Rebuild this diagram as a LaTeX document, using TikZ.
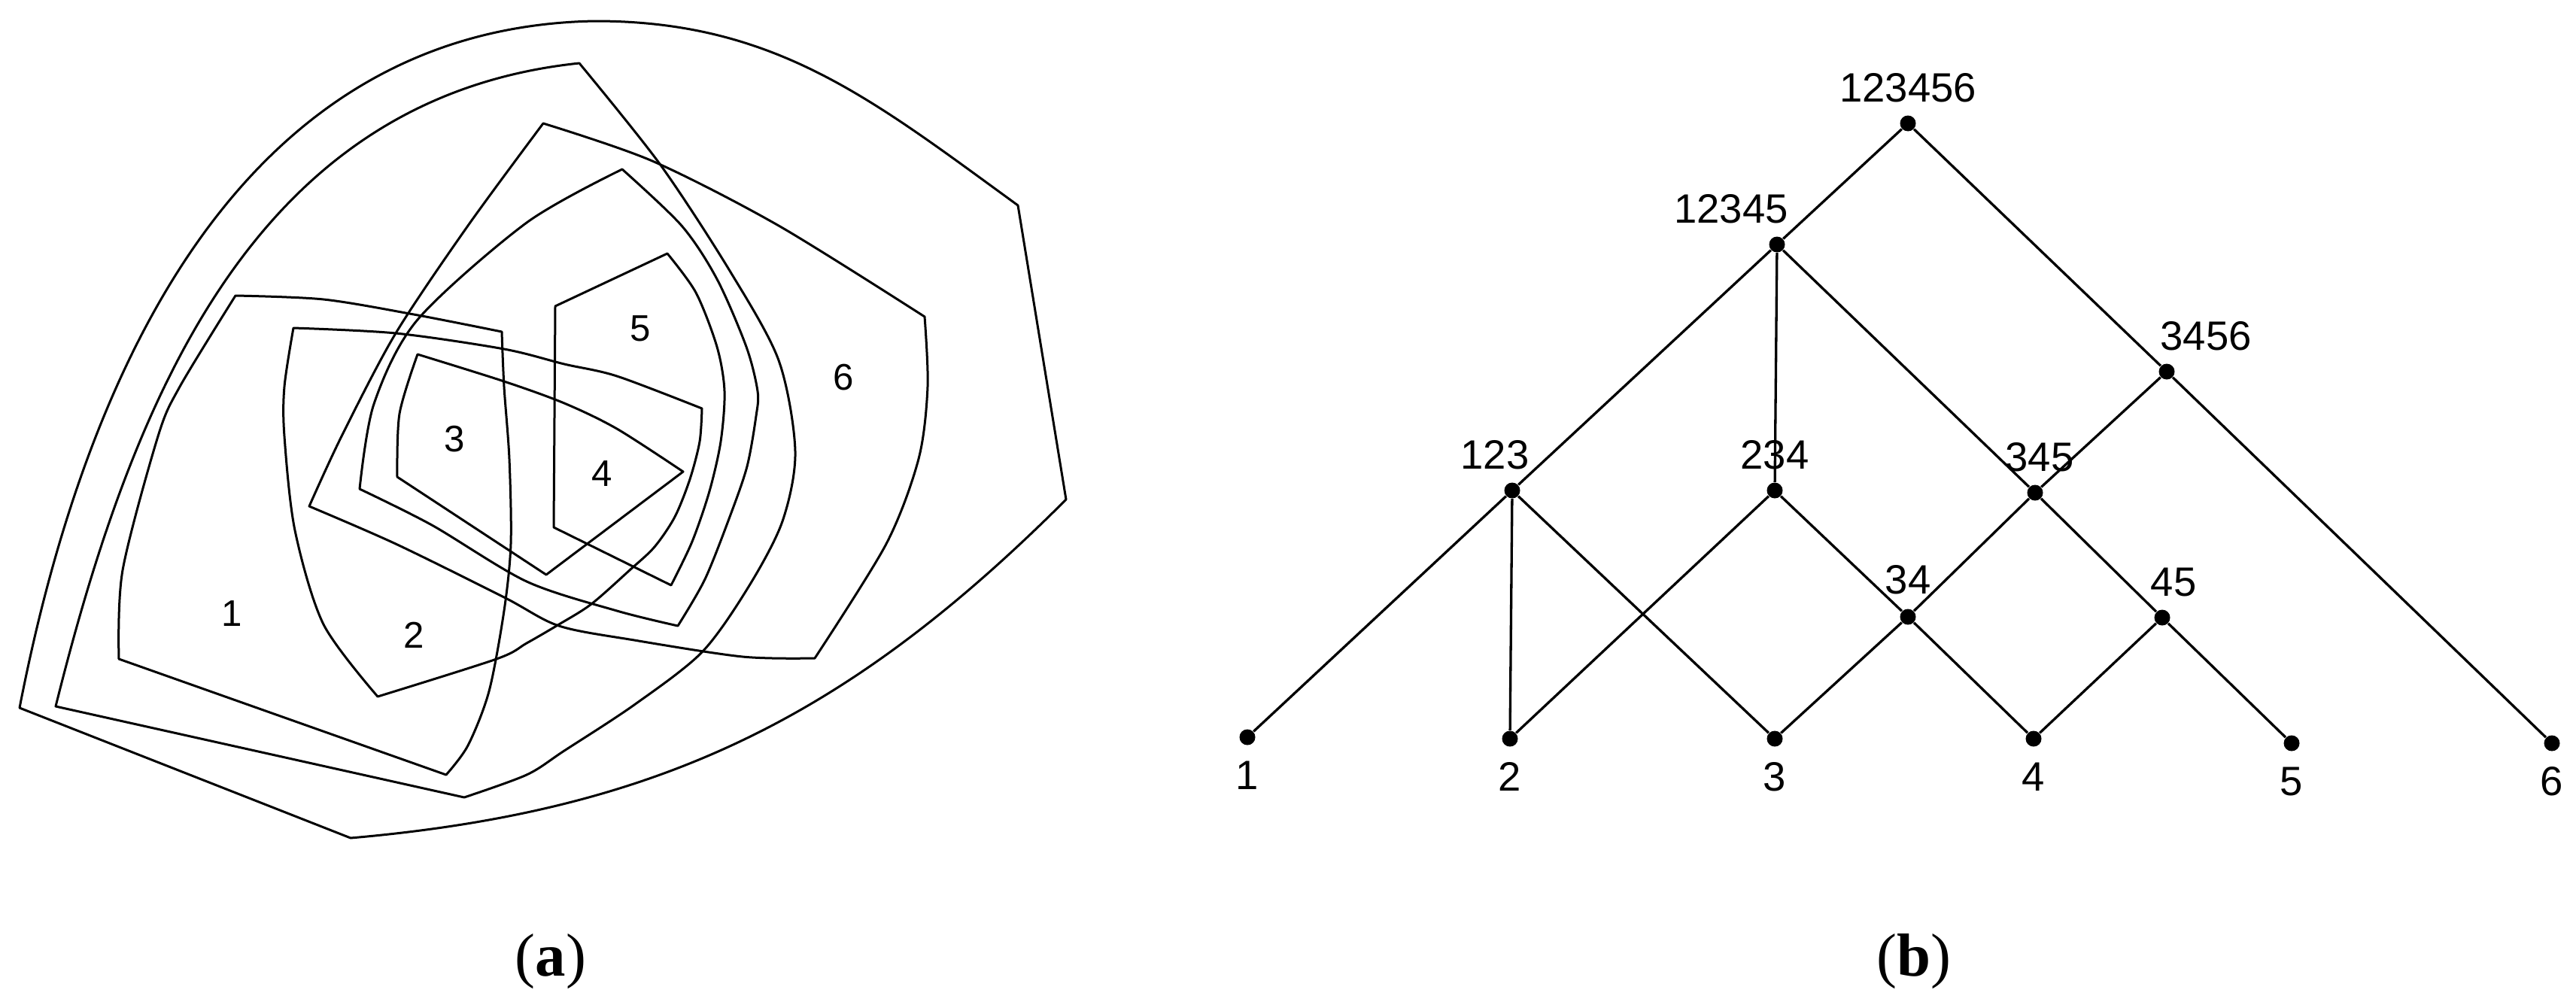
\documentclass[tikz,border=0pt]{standalone}
\usepackage{fontspec}
\setmainfont{Liberation Serif}
\setsansfont{Liberation Sans}
\usepackage{tikz}

\begin{document}
\begin{tikzpicture}[venn/.style={line width=0.3mm,line join=round},
  dot/.style={circle,fill,inner sep=0pt,minimum size=2.1mm},
  every label/.style={font=\sffamily\fontsize{15.5}{18}\selectfont,inner sep=0pt},
  num/.style={font=\sffamily\fontsize{14}{17}\selectfont,inner sep=0pt}]
\useasboundingbox (0,0) rectangle (34.24,-13.39);
% (a)
\draw[venn] (0.26,-9.41) to[out=79,in=181] (7.91,-0.28) to[out=0,in=144] (13.53,-2.73) -- (14.17,-6.64) to[out=225,in=5] (4.66,-11.14) -- cycle;
\draw[venn] (0.74,-9.39) to[out=76,in=186] (7.70,-0.84) -- plot[smooth] coordinates {(7.70,-0.84) (8.77,-2.18) (9.70,-3.60) (10.35,-4.79) (10.57,-6.00) (10.40,-6.93) (9.95,-7.80) (9.33,-8.67) (8.43,-9.37) (7.50,-9.98) (7.00,-10.30) (6.17,-10.60)} -- cycle;
\draw[venn] plot[smooth] coordinates {(7.22,-1.64) (8.67,-2.14) (10.35,-3.00) (12.29,-4.21)} -- plot[smooth] coordinates {(12.29,-4.21) (12.33,-5.14) (12.21,-6.10) (11.78,-7.23) (10.83,-8.75)} -- plot[smooth] coordinates {(10.83,-8.75) (9.87,-8.73) (8.43,-8.51) (7.43,-8.32) (6.70,-7.94) (5.26,-7.23) (4.11,-6.73)} -- plot[smooth] coordinates {(4.11,-6.73) (4.54,-5.80) (5.26,-4.43) (6.22,-3.00) (7.22,-1.64)} -- cycle;
\draw[venn] plot[smooth] coordinates {(3.13,-3.93) (4.30,-3.98) (5.50,-4.18) (6.67,-4.41)} -- plot[smooth] coordinates {(6.67,-4.41) (6.70,-5.14) (6.77,-6.10) (6.79,-7.23) (6.70,-8.12) (6.50,-9.19) (6.22,-9.91) (5.93,-10.30)} -- (1.58,-8.76) -- plot[smooth] coordinates {(1.58,-8.76) (1.63,-7.58) (2.10,-5.80) (2.39,-5.14) (3.13,-3.93)} -- cycle;
\draw[venn] plot[smooth] coordinates {(3.90,-4.36) (5.26,-4.43) (6.70,-4.64) (7.50,-4.84) (8.20,-5.00) (9.33,-5.43)} -- plot[smooth] coordinates {(9.33,-5.43) (9.30,-5.87) (9.17,-6.37) (8.97,-6.87) (8.70,-7.27) (8.38,-7.57) (7.86,-8.03) (7.43,-8.30) (7.00,-8.55) (6.60,-8.76) (5.02,-9.26)} -- plot[smooth] coordinates {(5.02,-9.26) (4.30,-8.30) (3.92,-7.05) (3.78,-5.80) (3.78,-5.14) (3.90,-4.36)} -- cycle;
\draw[venn] plot[smooth] coordinates {(8.27,-2.25) (7.00,-2.96) (5.55,-4.25) (4.97,-5.37) (4.78,-6.50)} -- plot[smooth] coordinates {(4.78,-6.50) (5.74,-6.98) (7.00,-7.73) (8.20,-8.12) (9.01,-8.32)} -- plot[smooth] coordinates {(9.01,-8.32) (9.37,-7.70) (9.70,-6.87) (9.93,-6.20) (10.05,-5.53) (10.07,-5.20) (9.92,-4.61) (9.53,-3.71) (9.06,-3.00) (8.27,-2.25)} -- cycle;
\draw[venn] plot[smooth] coordinates {(5.55,-4.71) (6.70,-5.07) (7.50,-5.36) (8.20,-5.70) (9.08,-6.27)} -- (7.26,-7.64) -- (5.28,-6.34) -- plot[smooth] coordinates {(5.28,-6.34) (5.31,-5.50) (5.55,-4.71)} -- cycle;
\draw[venn] (8.87,-3.37) -- (7.38,-4.07) -- (7.36,-7.01) -- (8.92,-7.78) -- plot[smooth] coordinates {(8.92,-7.78) (9.20,-7.20) (9.43,-6.53) (9.58,-5.87) (9.63,-5.20) (9.53,-4.61) (9.25,-3.89) (8.87,-3.37)} -- cycle;
\node[num] (e1) at (3.08,-8.16) {1};
\node[num] (e2) at (5.50,-8.44) {2};
\node[num] (e3) at (6.04,-5.84) {3};
\node[num] (e4) at (8.00,-6.30) {4};
\node[num] (e5) at (8.51,-4.37) {5};
\node[num] (e6) at (11.21,-5.02) {6};
% (b)
\node[dot,label={[label distance=1.6mm]above:123456}] (n123456) at (25.36,-1.64) {};
\node[dot,label={[label distance=1.6mm,xshift=-6.1mm]above:12345}] (n12345) at (23.62,-3.25) {};
\node[dot,label={[label distance=1.6mm,xshift=5.2mm]above:3456}] (n3456) at (28.80,-4.94) {};
\node[dot,label={[label distance=1.6mm,xshift=-2.3mm]above:123}] (n123) at (20.10,-6.52) {};
\node[dot,label={[label distance=1.6mm]above:234}] (n234) at (23.59,-6.52) {};
\node[dot,label={[label distance=1.6mm,xshift=0.6mm]above:345}] (n345) at (27.05,-6.55) {};
\node[dot,label={[label distance=1.8mm]above:34}] (n34) at (25.36,-8.20) {};
\node[dot,label={[label distance=1.6mm,xshift=1.5mm]above:45}] (n45) at (28.74,-8.21) {};
\node[dot,label={[label distance=2mm]below:1}] (n1) at (16.58,-9.80) {};
\node[dot,label={[label distance=2mm]below:2}] (n2) at (20.07,-9.82) {};
\node[dot,label={[label distance=2mm]below:3}] (n3) at (23.59,-9.82) {};
\node[dot,label={[label distance=2mm]below:4}] (n4) at (27.03,-9.82) {};
\node[dot,label={[label distance=2mm]below:5}] (n5) at (30.46,-9.88) {};
\node[dot,label={[label distance=2mm]below:6}] (n6) at (33.92,-9.88) {};
\draw[line width=0.33mm] (n1) -- (n123) -- (n12345) -- (n123456) -- (n3456) -- (n6);
\draw[line width=0.33mm] (n2) -- (n123) -- (n3) -- (n34) -- (n4) -- (n45) -- (n5);
\draw[line width=0.33mm] (n2) -- (n234) -- (n12345) -- (n345) -- (n3456);
\draw[line width=0.33mm] (n234) -- (n34) -- (n345) -- (n45);
% captions
\node[font=\fontsize{23}{28}\selectfont] (capa) at (7.32,-12.78) {(\textbf{a})};
\node[font=\fontsize{23}{28}\selectfont] (capb) at (25.44,-12.78) {(\textbf{b})};
\end{tikzpicture}
\end{document}
